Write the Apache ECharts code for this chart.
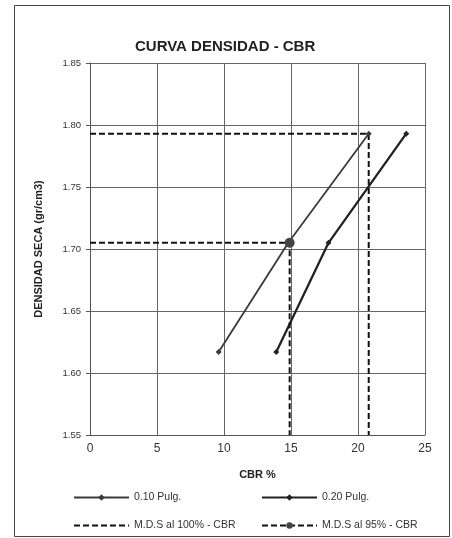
<!DOCTYPE html>
<html><head><meta charset="utf-8">
<script src="https://cdn.jsdelivr.net/npm/echarts@6/dist/echarts.min.js"></script>
<style>html,body{margin:0;padding:0;background:#fff}#c{width:452px;height:538px}</style>
</head><body><div id="c"></div>
<script>
const xTicks = [0, 5, 10, 15, 20, 25];
const yTicks = [1.55, 1.60, 1.65, 1.70, 1.75, 1.80, 1.85];
const cbr010 = [9.6, 14.8, 20.8];
const dens010 = [1.617, 1.705, 1.793];
const cbr020 = [13.9, 17.8, 23.6];
const dens020 = [1.617, 1.705, 1.793];
const mds100X = [0, 20.8, 20.8];
const mds100Y = [1.793, 1.793, 1.55];
const mds95X = [0, 14.9, 14.9];
const mds95Y = [1.705, 1.705, 1.55];
const names = ['0.10 Pulg.', '0.20 Pulg.', 'M.D.S al 100% - CBR', 'M.D.S al 95% - CBR'];

const zip = (a, b) => a.map((v, i) => [v, b[i]]);
const ink = '#3a3a3a';
const chart = echarts.init(document.getElementById('c'));
const legendFont = { fontFamily: 'Liberation Sans', fontSize: 10.5, color: '#333' };
function lg(item, left, top) {
  return { data: [item], left: left, top: top, itemWidth: 55, itemHeight: 8, itemGap: 5, textStyle: legendFont, selectedMode: false };
}
chart.setOption({
  backgroundColor: '#fff',
  animation: false,
  title: { text: 'CURVA DENSIDAD - CBR', left: 130, top: 34,
    textStyle: { fontFamily: 'Liberation Sans', fontSize: 15, fontWeight: 'bold', color: '#222' } },
  graphic: [{ type: 'rect', shape: { x: 14.5, y: 5.5, width: 435, height: 531 },
    style: { fill: 'none', stroke: '#444', lineWidth: 1 }, silent: true }],
  grid: { left: 90, right: 27, top: 63, bottom: 103 },
  legend: [lg(names[0], 68, 487), lg(names[1], 256, 487),
    lg({ name: names[2], itemStyle: { opacity: 0 } }, 68, 515), lg(names[3], 256, 515)],
  xAxis: { type: 'value', min: 0, max: 25, interval: 5,
    name: 'CBR %', nameLocation: 'middle', nameGap: 34,
    nameTextStyle: { fontFamily: 'Liberation Sans', fontSize: 11, fontWeight: 'bold', color: '#222' },
    axisLine: { lineStyle: { color: '#555' } }, axisTick: { show: false },
    axisLabel: { fontFamily: 'Liberation Sans', fontSize: 12, color: '#333', margin: 8 },
    splitLine: { show: true, lineStyle: { color: '#666', width: 1 } } },
  yAxis: { type: 'value', min: 1.55, max: 1.85, interval: 0.05,
    name: 'DENSIDAD SECA (gr/cm3)', nameLocation: 'middle', nameGap: 46,
    nameTextStyle: { fontFamily: 'Liberation Sans', fontSize: 11, fontWeight: 'bold', color: '#222' },
    axisLine: { show: true, lineStyle: { color: '#555' } }, axisTick: { show: true, length: 4, lineStyle: { color: '#555' } },
    axisLabel: { fontFamily: 'Liberation Sans', fontSize: 9.5, color: '#333', margin: 9, formatter: v => v.toFixed(2) },
    splitLine: { show: true, lineStyle: { color: '#666', width: 1 } } },
  series: [
    { name: names[0], type: 'line', data: zip(cbr010, dens010), symbol: 'diamond', symbolSize: 6,
      lineStyle: { color: ink, width: 1.8 }, itemStyle: { color: ink } },
    { name: names[1], type: 'line', data: zip(cbr020, dens020), symbol: 'diamond', symbolSize: 6,
      lineStyle: { color: '#222', width: 2.3 }, itemStyle: { color: '#222' } },
    { name: names[2], type: 'line', data: zip(mds100X, mds100Y), symbol: 'none',
      lineStyle: { color: '#111', width: 2, type: [6, 3] }, itemStyle: { color: '#111' } },
    { name: names[3], type: 'line', symbol: 'circle', symbolSize: 10,
      data: zip(mds95X, mds95Y).map((p, i) => i === 1 ? { value: p } : { value: p, symbol: 'none' }),
      lineStyle: { color: '#111', width: 2, type: [6, 3] }, itemStyle: { color: '#444' }, z: 3 }
  ]
});
</script></body></html>
